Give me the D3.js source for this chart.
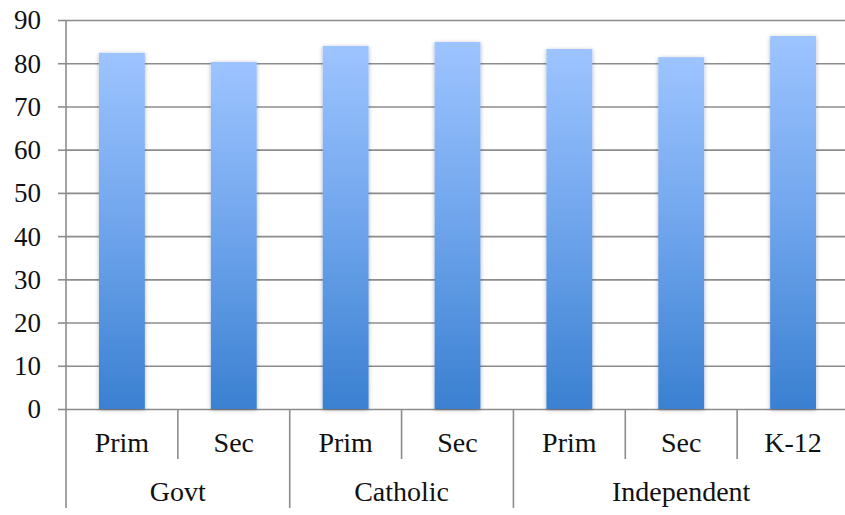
<!DOCTYPE html>
<html>
<head>
<meta charset="utf-8">
<script src="https://cdn.jsdelivr.net/npm/d3@7"></script>
<style>
  html, body { margin: 0; padding: 0; background: #fff; }
  svg { display: block; }
  svg text { font-family: "Liberation Serif", "DejaVu Serif", serif; fill: #111; }
</style>
</head>
<body>
<svg id="chart" width="845" height="515"></svg>
<script>
// School sectors and their sub-types, one bar per sub-type
const groups = ["Govt", "Catholic", "Independent"];
const groupSizes = [2, 2, 3];
const subLabels = ["Prim", "Sec", "Prim", "Sec", "Prim", "Sec", "K-12"];
const values = [82.4, 80.3, 84.0, 84.9, 83.3, 81.4, 86.3];
const yTicks = [0, 10, 20, 30, 40, 50, 60, 70, 80, 90];

const svg = d3.select("#chart");
const margin = { left: 66, right: -4, top: 20, bottom: 106 };
const W = 845, H = 515;
const x0 = margin.left, x1 = W - margin.right;
const yTop = margin.top, yBot = H - margin.bottom;
const serif = '"Liberation Serif", "DejaVu Serif", serif';

const keys = subLabels.map((d, i) => i);
const x = d3.scaleBand().domain(keys).range([x0, x1]).paddingInner(0.59).paddingOuter(0.295);
const slot = d3.scaleBand().domain(keys).range([x0, x1]);
const y = d3.scaleLinear().domain([0, 90]).range([yBot, yTop]);

const defs = svg.append("defs");
const grad = defs.append("linearGradient").attr("id", "barFill")
  .attr("x1", 0).attr("y1", 0).attr("x2", 0).attr("y2", 1);
grad.append("stop").attr("offset", "0%").attr("stop-color", "#9dc4ff");
grad.append("stop").attr("offset", "50%").attr("stop-color", "#6ea4ec");
grad.append("stop").attr("offset", "100%").attr("stop-color", "#3a80d1");

const shadow = defs.append("filter").attr("id", "barShadow")
  .attr("x", "-30%").attr("y", "-10%").attr("width", "160%").attr("height", "120%");
shadow.append("feDropShadow").attr("dx", 0).attr("dy", 1).attr("stdDeviation", 2.2)
  .attr("flood-color", "#000").attr("flood-opacity", 0.3);

const gridColor = "#8c8c8c";

// horizontal gridlines with left tick marks
const yAxis = d3.axisLeft(y).tickValues(yTicks).tickSize(8).tickPadding(17);
const gy = svg.append("g").attr("transform", `translate(${x0},0)`).call(yAxis)
  .attr("font-family", serif).attr("font-size", 27);
gy.select(".domain").remove();
gy.selectAll(".tick line").attr("stroke", gridColor).attr("stroke-width", 1.6);
gy.selectAll(".tick text").attr("dy", "0.33em")
  .attr("font-family", serif).style("font-family", serif).attr("fill", "#111");
gy.selectAll(".tick").append("line")
  .attr("x1", 0).attr("x2", x1 - x0)
  .attr("stroke", gridColor).attr("stroke-width", 1.6);

// vertical left axis, running down through the category rows
svg.append("line").attr("x1", x0).attr("x2", x0).attr("y1", yTop).attr("y2", 508)
  .attr("stroke", gridColor).attr("stroke-width", 1.6);

// bars
svg.append("g").selectAll("rect").data(values).join("rect")
  .attr("x", (d, i) => x(i))
  .attr("width", x.bandwidth())
  .attr("y", d => y(d))
  .attr("height", d => y(0) - y(d))
  .attr("fill", "url(#barFill)")
  .attr("filter", "url(#barShadow)");

// category separators: short between sub-types, long between groups
const groupStarts = [];
groupSizes.reduce((acc, n) => { groupStarts.push(acc); return acc + n; }, 0);
const sep = svg.append("g");
keys.slice(1).forEach(i => {
  const isGroup = groupStarts.includes(i);
  sep.append("line")
    .attr("x1", slot(i)).attr("x2", slot(i))
    .attr("y1", yBot).attr("y2", isGroup ? 508 : 459)
    .attr("stroke", gridColor).attr("stroke-width", 1.6);
});

// sub-type labels
svg.append("g").selectAll("text").data(subLabels).join("text")
  .attr("x", (d, i) => slot(i) + slot.bandwidth() / 2)
  .attr("y", 452)
  .attr("text-anchor", "middle")
  .attr("font-size", 28)
  .text(d => d);

// group labels
svg.append("g").selectAll("text").data(groups).join("text")
  .attr("x", (d, gi) => {
    const a = groupStarts[gi], b = a + groupSizes[gi] - 1;
    return (slot(a) + slot(b) + slot.bandwidth()) / 2;
  })
  .attr("y", 501)
  .attr("text-anchor", "middle")
  .attr("font-size", 28)
  .text(d => d);
</script>
</body>
</html>
